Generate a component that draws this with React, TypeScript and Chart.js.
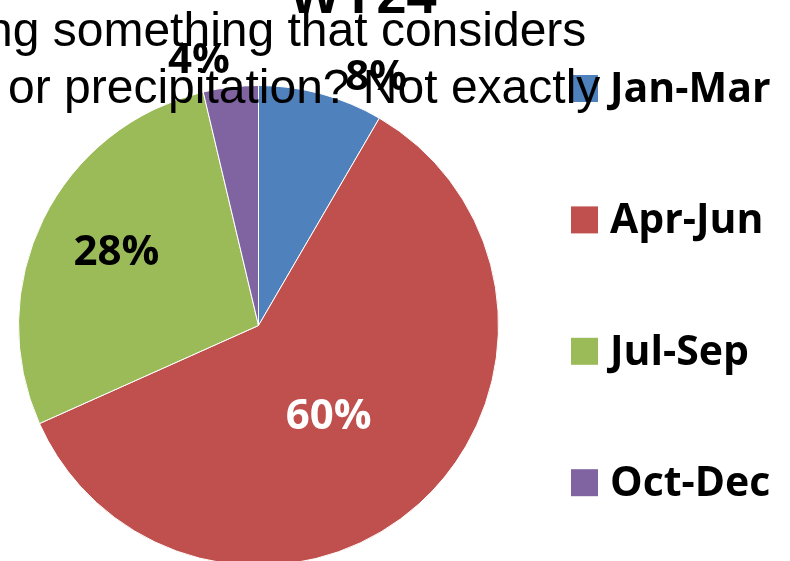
import React, { useEffect, useRef } from "react";
import { Chart, registerables } from "chart.js";

Chart.register(...registerables);

const categories = ["Jan-Mar", "Apr-Jun", "Jul-Sep", "Oct-Dec"];
const shares = [8.4, 59.9, 28.0, 3.7];
const titleText = "WY24";
const overlayLines = ["ng something that considers", "or precipitation? Not exactly"];

const sliceColors = ["#4F81BD", "#C0504D", "#9BBB59", "#8064A2"];
const labelColors = ["#000000", "#FFFFFF", "#000000", "#000000"];
// label placement: angle shift from slice middle (deg) and radius factor
const labelAngleShift = [10, 3.5, 1.7, -5.9];
const labelRadiusFactor = [1.155, 0.47, 0.67, 1.14];

const overlayPlugin = {
  id: "overlay",
  afterDatasetsDraw(chart: any) {
    const ctx = chart.ctx as CanvasRenderingContext2D;
    const meta = chart.getDatasetMeta(0);
    const data = chart.data.datasets[0].data as number[];
    const total = data.reduce((a, b) => a + b, 0);
    ctx.save();
    ctx.font = "bold 42px 'Open Sans'";
    ctx.textAlign = "center";
    ctx.textBaseline = "alphabetic";
    meta.data.forEach((arc: any, i: number) => {
      const p = arc.getProps(["x", "y", "startAngle", "endAngle", "outerRadius"], true);
      const mid = (p.startAngle + p.endAngle) / 2 + (labelAngleShift[i] * Math.PI) / 180;
      const r = p.outerRadius * labelRadiusFactor[i];
      const x = p.x + Math.cos(mid) * r;
      const y = p.y + Math.sin(mid) * r;
      ctx.fillStyle = labelColors[i];
      ctx.fillText(Math.round((data[i] / total) * 100) + "%", x, y + 15);
    });
    ctx.restore();
  },
  afterDraw(chart: any) {
    const ctx = chart.ctx as CanvasRenderingContext2D;
    const ds = chart.data.datasets[0];
    ctx.save();
    // legend
    ctx.textAlign = "left";
    ctx.textBaseline = "alphabetic";
    ctx.font = "bold 41px 'Open Sans'";
    (chart.data.labels as string[]).forEach((lab, i) => {
      const base = 102 + i * 131.4;
      ctx.fillStyle = (ds.backgroundColor as string[])[i];
      ctx.fillRect(571, base - 27, 27, 27);
      ctx.fillStyle = "#000";
      ctx.fillText(lab, 610, base);
    });
    // title
    ctx.font = "bold 54px 'Liberation Sans'";
    ctx.textAlign = "center";
    ctx.fillStyle = "#000";
    ctx.fillText(titleText, 363, 13);
    // overlaid text box
    ctx.font = "48px 'Liberation Sans'";
    ctx.textAlign = "left";
    ctx.fillText(overlayLines[0], -14, 46);
    ctx.fillText(overlayLines[1], 8, 103);
    ctx.restore();
  },
};

export default function App() {
  const ref = useRef<HTMLCanvasElement>(null);
  useEffect(() => {
    document.body.style.margin = "0";
    const chart = new Chart(ref.current as HTMLCanvasElement, {
      type: "pie",
      data: {
        labels: categories,
        datasets: [
          {
            data: shares,
            backgroundColor: sliceColors,
            borderColor: "#FFFFFF",
            borderWidth: 1,
          },
        ],
      },
      options: {
        responsive: false,
        animation: false,
        devicePixelRatio: 1,
        layout: { padding: { left: 18, top: 85, right: 291, bottom: 34 } },
        plugins: {
          legend: { display: false },
          title: { display: false },
          tooltip: { enabled: false },
        },
      },
      plugins: [overlayPlugin],
    });
    return () => chart.destroy();
  }, []);
  return (
    <div style={{ position: "relative", width: 790, height: 561, overflow: "hidden", background: "#fff" }}>
      <canvas ref={ref} width={790} height={600} style={{ position: "absolute", left: 0, top: 0 }} />
    </div>
  );
}
